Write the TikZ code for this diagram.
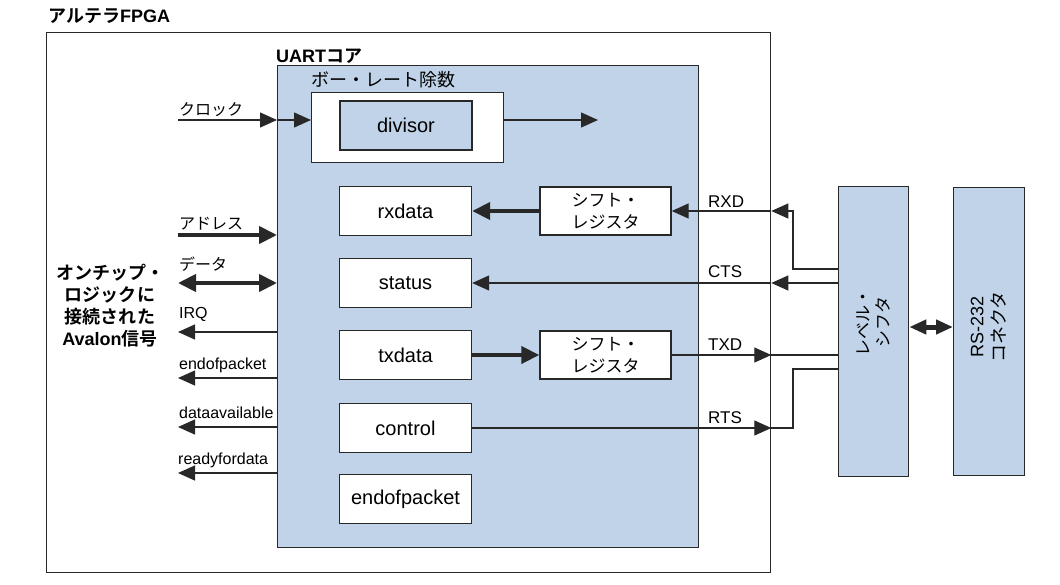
\documentclass[tikz,border=0pt]{standalone}
\usepackage{fontspec}
\setmainfont{Liberation Sans}
\newfontfamily\jpfont{Noto Sans CJK JP}[BoldFont={Noto Sans CJK JP Bold}]
\usetikzlibrary{arrows.meta}
\definecolor{corefill}{RGB}{192,211,232}
\definecolor{linegray}{RGB}{40,40,40}
\newcommand{\ja}[1]{{\jpfont #1}}
\tikzset{
  frame/.style={draw=linegray, line width=1.3pt, anchor=north west, inner sep=0pt},
  reg/.style={draw=linegray, line width=1.4pt, fill=white, minimum width=132pt, minimum height=49pt, inner sep=0pt, font=\fontsize{20}{24}\selectfont},
  shiftbox/.style={reg, minimum width=131pt, minimum height=48pt, align=center, font=\fontsize{17}{22}\selectfont\jpfont},
  vtext/.style={rotate=90, align=center, inner sep=0pt},
  sig/.style={draw=linegray, line width=1.2pt},
  tip/.style={-{Triangle[length=17pt, width=15pt]}},
  bus/.style={line width=4pt, -{Triangle[length=18pt, width=17pt]}},
  dbus/.style={line width=4pt, {Triangle[length=18pt, width=17pt]}-{Triangle[length=18pt, width=17pt]}},
  lbl/.style={inner sep=0pt, anchor=base west, font=\fontsize{16}{20}\selectfont},
  rlbl/.style={lbl, font=\fontsize{17}{20}\selectfont},
}
\begin{document}
\begin{tikzpicture}[x=1pt, y=-1pt]
    \useasboundingbox (0,0) rectangle (1060,584);

    % FPGA and UART core
    \node[lbl, font=\fontsize{18}{22}\selectfont\bfseries] (fpgatitle) at (48,22) {\ja{アルテラ}FPGA};
    \node[frame, minimum width=724pt, minimum height=540pt] (fpga) at (46,32) {};
    \node[frame, fill=corefill, minimum width=421pt, minimum height=482pt] (uart) at (277,65) {};
    \node[lbl, font=\fontsize{18}{22}\selectfont\bfseries] (uarttitle) at (276,62) {UART\ja{コア}};

    % baud rate divisor
    \node[lbl, font=\fontsize{18}{22}\selectfont\jpfont] (baudtitle) at (311,86) {ボー・レート除数};
    \node[frame, fill=white, minimum width=192pt, minimum height=70pt] (baud) at (311,92) {};
    \node[reg, fill=corefill] (divisor) at (406,125.5) {divisor};

    % registers
    \node[reg] (rxdata) at (405.5,211) {rxdata};
    \node[reg] (status) at (405.5,283) {status};
    \node[reg] (txdata) at (405.5,355) {txdata};
    \node[reg] (control) at (405.5,428) {control};
    \node[reg] (eop) at (405.5,499) {endofpacket};

    % shift registers
    \node[shiftbox] (rxshift) at (605.5,211) {シフト・\\レジスタ};
    \node[shiftbox] (txshift) at (605.5,355) {シフト・\\レジスタ};

    % level shifter, RS-232
    \node[frame, fill=corefill, minimum width=70pt, minimum height=290pt] (lvl) at (838,186) {};
    \node[frame, fill=corefill, minimum width=71pt, minimum height=288pt] (rs) at (953,187) {};
    \node[vtext, font=\fontsize{17}{20}\selectfont\jpfont] (lvltxt) at (873,322) {レベル・\\シフタ};
    \node[vtext, font=\fontsize{18}{22}\selectfont] (rstxt) at (988.5,327) {RS-232\\\ja{コネクタ}};

    % Avalon side
    \node[align=center, font=\fontsize{18}{22}\selectfont\jpfont\bfseries] (avalon) at (110,306)
        {オンチップ・\\ロジックに\\接続された\\{\rmfamily Avalon}信号};

    \coordinate (clkin) at (178,120);
    \coordinate (baudout) at (598,120);
    \coordinate (addrin) at (178,235);
    \coordinate (datain) at (178,283);
    \coordinate (irqout) at (178,332);
    \coordinate (eopout) at (178,378);
    \coordinate (daout) at (178,427);
    \coordinate (rfdout) at (178,473);

    \node[lbl, font=\fontsize{16}{20}\selectfont\jpfont] (clklbl) at (179,115) {クロック};
    \node[lbl, font=\fontsize{16}{20}\selectfont\jpfont] (addrlbl) at (179,229) {アドレス};
    \node[lbl, font=\fontsize{16}{20}\selectfont\jpfont] (datalbl) at (179,270) {データ};
    \node[lbl] (irqlbl) at (179,318) {IRQ};
    \node[lbl] (eoplbl) at (179,369.5) {endofpacket};
    \node[lbl] (dalbl) at (179,418.5) {dataavailable};
    \node[lbl] (rfdlbl) at (178,464.5) {readyfordata};

    % arrows, left
    \draw[sig, tip] (clkin) -- (clkin -| uart.west);
    \draw[sig, tip] (clkin -| uart.west) -- (clkin -| baud.west);
    \draw[sig, tip] (clkin -| baud.east) -- (baudout);
    \draw[sig, bus] (addrin) -- (addrin -| uart.west);
    \draw[sig, dbus] (datain) -- (datain -| uart.west);
    \draw[sig, tip] (irqout -| uart.west) -- (irqout);
    \draw[sig, tip] (eopout -| uart.west) -- (eopout);
    \draw[sig, tip] (daout -| uart.west) -- (daout);
    \draw[sig, tip] (rfdout -| uart.west) -- (rfdout);

    % serial lines
    \coordinate (rxbend) at (793,269);
    \coordinate (rxin) at (fpga.east |- rxshift.east);
    \coordinate (ctsin) at (fpga.east |- status.east);
    \coordinate (txdout) at (fpga.east |- txshift.east);
    \coordinate (rtsout) at (fpga.east |- control.east);
    \coordinate (rtsbend) at (793,369);
    \coordinate (link) at (930,327);

    \node[rlbl] (rxdlbl) at (708,207) {RXD};
    \node[rlbl] (ctslbl) at (708,277) {CTS};
    \node[rlbl] (txdlbl) at (708,350) {TXD};
    \node[rlbl] (rtslbl) at (708,423) {RTS};

    \draw[sig, tip] (lvl.west |- rxbend) -- (rxbend) |- (rxin);
    \draw[sig, tip] (rxin) -- (rxshift.east);
    \draw[sig, bus] (rxshift.west) -- (rxdata.east);
    \draw[sig, tip] (lvl.west |- ctsin) -- (ctsin);
    \draw[sig, tip] (ctsin) -- (status.east);
    \draw[sig, bus] (txdata.east) -- (txshift.west);
    \draw[sig, tip] (txshift.east) -- (txdout);
    \draw[sig] (txdout) -- (lvl.west |- txdout);
    \draw[sig, tip] (control.east) -- (rtsout);
    \draw[sig] (rtsout) -| (rtsbend) -- (lvl.west |- rtsbend);
    \draw[sig, line width=5pt, {Triangle[length=17pt, width=14pt]}-{Triangle[length=17pt, width=14pt]}] (lvl.east |- link) -- (rs.west |- link);
\end{tikzpicture}
\end{document}
